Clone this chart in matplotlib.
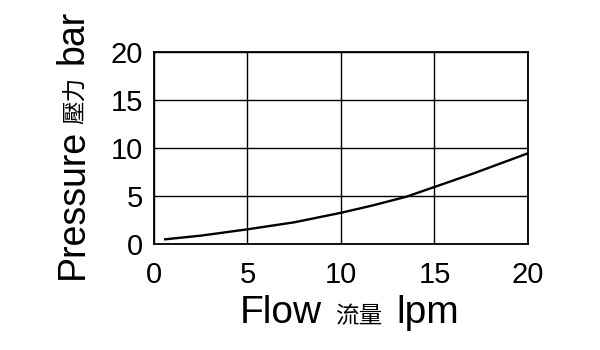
import matplotlib
matplotlib.use('Agg')
import matplotlib.pyplot as plt

plt.rcParams['font.family'] = ['Liberation Sans', 'Noto Sans CJK TC', 'DejaVu Sans']

# curve
flow = [0.6, 2.5, 5, 7.5, 10, 11.7, 13.5, 15, 17.1, 20]
pressure = [0.49, 0.87, 1.53, 2.26, 3.25, 4.02, 4.93, 5.94, 7.36, 9.45]
ticks = [0, 5, 10, 15, 20]

W, H = 600, 350

def px(x, y):
    return x / W, 1 - y / H

fig = plt.figure(figsize=(6, 3.5), dpi=100)
ax = fig.add_axes([154 / W, 1 - 244 / H, (528 - 154) / W, (244 - 52) / H])

ax.plot(flow, pressure, color='black', lw=1.7)
ax.set_xlim(0, 20)
ax.set_ylim(0, 20)
ax.set_xticks(ticks)
ax.set_yticks(ticks)
ax.grid(True, color='black', lw=1.0)
ax.tick_params(length=0, labelsize=21)
ax.tick_params(axis='x', pad=12)
ax.tick_params(axis='y', pad=8)
for s in ax.spines.values():
    s.set_linewidth(1.3)

# x label: mixed sizes
fig.text(*px(240, 323), 'Flow', fontsize=28, ha='left', va='baseline')
fig.text(*px(335, 323), '流量', fontsize=17, ha='left', va='baseline',
         family=['Noto Sans CJK TC'])
fig.text(*px(396, 323), 'lpm', fontsize=28, ha='left', va='baseline')

# y label, rotated
fig.text(*px(83, 279), 'Pressure', fontsize=27, rotation=90, rotation_mode='anchor',
         ha='left', va='baseline')
fig.text(*px(83, 124), '壓力', fontsize=17, rotation=90, rotation_mode='anchor',
         ha='left', va='baseline', family=['Noto Sans CJK TC'])
fig.text(*px(83, 64), 'bar', fontsize=27, rotation=90, rotation_mode='anchor',
         ha='left', va='baseline')

fig.savefig('out.png', dpi=100)
